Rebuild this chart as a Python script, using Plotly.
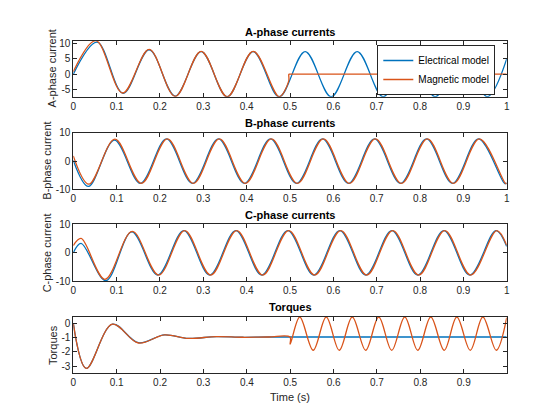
import plotly.graph_objects as go

# ---- values (peaks / troughs / breakpoints) ----
t_a_elec = [0, 0.055, 0.115, 0.175, 0.235, 0.295, 0.355, 0.415, 0.475, 0.535,
            0.595, 0.655, 0.715, 0.775, 0.835, 0.895, 0.955, 1.0]
i_a_elec = [0, 10.5, -6.3, 8.0, -7.2, 7.4, -7.4, 7.4, -7.4, 7.4,
            -7.4, 7.4, -7.4, 7.4, -7.4, 7.4, -7.4, 5.0]
t_a_mag = [0, 0.052, 0.114, 0.175, 0.235, 0.295, 0.355, 0.415, 0.475,
           0.497, 0.4975, 0.5, 1.0]
i_a_mag = [0.8, 11.0, -6.2, 8.1, -7.3, 7.5, -7.4, 7.5, -7.4,
           -2.3, 0, 0, 0]

t_b_elec = [0, 0.035, 0.095, 0.155, 0.215, 0.275, 0.335, 0.395, 0.455, 0.515,
            0.575, 0.635, 0.695, 0.755, 0.815, 0.875, 0.935, 0.995, 1.0]
i_b_elec = [0.2, -9.0, 7.4, -7.9, 7.8, -7.9, 7.8, -7.9, 7.8, -7.9,
            7.8, -7.9, 7.8, -7.9, 7.8, -7.9, 7.8, -7.9, -7.8]
t_b_mag = [0, 0.036, 0.096, 0.157, 0.217, 0.277, 0.337, 0.397, 0.457, 0.517,
           0.577, 0.637, 0.697, 0.757, 0.817, 0.877, 0.937, 0.997, 1.0]
i_b_mag = [1.8, -8.2, 7.7, -7.9, 7.8, -7.9, 7.8, -7.9, 7.8, -7.9,
           7.8, -7.9, 7.8, -7.9, 7.8, -7.9, 7.8, -7.9, -7.9]

t_c_elec = [0, 0.018, 0.075, 0.135, 0.195, 0.255, 0.315, 0.375, 0.435, 0.495,
            0.555, 0.615, 0.675, 0.735, 0.795, 0.855, 0.915, 0.975, 1.0]
i_c_elec = [0, 3.3, -9.9, 7.3, -7.9, 7.8, -7.9, 7.8, -7.9, 7.8,
            -7.9, 7.8, -7.9, 7.8, -7.9, 7.8, -7.9, 7.8, 2.2]
t_c_mag = [0, 0.018, 0.073, 0.136, 0.197, 0.257, 0.317, 0.377, 0.437, 0.497,
           0.557, 0.617, 0.677, 0.737, 0.797, 0.857, 0.917, 0.977, 1.0]
i_c_mag = [2.5, 5.0, -9.4, 7.5, -7.9, 7.8, -7.9, 7.8, -7.9, 7.8,
           -7.9, 7.8, -7.9, 7.8, -7.9, 7.8, -7.9, 7.8, 2.6]

t_q_elec = [0, 0.03, 0.09, 0.15, 0.21, 0.265, 0.33, 0.39, 0.45, 0.999]
q_elec = [0, -3.15, -0.05, -1.35, -0.8, -1.05, -0.92, -0.97, -0.95, -0.95]
t_q_mag = [0, 0.03, 0.09, 0.15, 0.21, 0.265, 0.33, 0.39, 0.45, 0.4995, 0.5,
           0.522, 0.553, 0.583, 0.613, 0.643, 0.674, 0.704, 0.734, 0.764,
           0.794, 0.824, 0.855, 0.884, 0.915, 0.944, 0.975, 0.999]
q_mag = [0, -3.15, -0.05, -1.37, -0.8, -1.05, -0.92, -0.97, -0.95, -0.95, -1.45,
         0.45, -1.88, 0.45, -1.88, 0.45, -1.88, 0.45, -1.88, 0.45,
         -1.88, 0.45, -1.88, 0.45, -1.88, 0.45, -1.88, 0.4]

titles = ["A-phase currents", "B-phase currents", "C-phase currents", "Torques"]
ylabels = ["A-phase current", "B-phase current", "C-phase current", "Torques"]
yticks = [[-5, 0, 5, 10], [-10, 0, 10], [-10, 0, 10], [-3, -2, -1, 0]]
yranges = [[-7.41, 10.98], [-10, 10], [-10, 10], [-3.45, 0.47]]
xticks_full = [0, 0.1, 0.2, 0.3, 0.4, 0.5, 0.6, 0.7, 0.8, 0.9, 1]
xticks_torque = [0, 0.1, 0.2, 0.3, 0.4, 0.5, 0.6, 0.7, 0.8, 0.9]

# ---- styling / layout ----
BLUE = "#0072BD"
ORANGE = "#D95319"
AX = "#262626"
FONT = "Liberation Sans, Arial, sans-serif"
W, H = 560, 420
PAGE = 8  # the page body adds an 8px margin, positions below are in window px


def fx(px):
    return (px - PAGE) / W


def fy(px):
    return 1 - (px - PAGE) / H


x_dom = [fx(73.3), fx(506.7)]
panels_px = [(40.7, 96.7), (132.7, 189.3), (224.3, 281.0), (316.7, 372.7)]
title_px = [31.7, 123.3, 215.0, 306.7]
ylabel_x_px = [51.7, 46.7, 46.7, 52.3]

series = [
    (t_a_elec, i_a_elec, t_a_mag, i_a_mag),
    (t_b_elec, i_b_elec, t_b_mag, i_b_mag),
    (t_c_elec, i_c_elec, t_c_mag, i_c_mag),
    (t_q_elec, q_elec, t_q_mag, q_mag),
]

fig = go.Figure()
annotations = []
layout_axes = {}

for k, (te, ye, tm, ym) in enumerate(series):
    n = "" if k == 0 else str(k + 1)
    xa, ya = "x" + n, "y" + n
    fig.add_trace(go.Scatter(x=te, y=ye, xaxis=xa, yaxis=ya, mode="lines",
                             line=dict(color=BLUE, width=1.3, shape="spline"),
                             name="Electrical model", showlegend=(k == 0)))
    fig.add_trace(go.Scatter(x=tm, y=ym, xaxis=xa, yaxis=ya, mode="lines",
                             line=dict(color=ORANGE, width=1.3, shape="spline"),
                             name="Magnetic model", showlegend=(k == 0)))

    top, bot = panels_px[k]
    y_dom = [fy(bot), fy(top)]
    last = k == 3
    xt = xticks_torque if last else xticks_full
    common = dict(ticks="inside", ticklen=4, tickwidth=1, tickcolor=AX,
                  showline=True, linecolor=AX, linewidth=1, mirror="ticks",
                  showgrid=False, zeroline=False, automargin=False,
                  tickfont=dict(size=10, color=AX, family=FONT))
    layout_axes["xaxis" + n] = dict(
        domain=x_dom, anchor=ya, range=[0, 0.999] if last else [0, 1],
        tickvals=xt, ticktext=[f"{v:g}" for v in xt], **common)
    layout_axes["yaxis" + n] = dict(
        domain=y_dom, anchor=xa, range=yranges[k],
        tickvals=yticks[k], ticktext=[str(v) for v in yticks[k]], **common)

    annotations.append(dict(
        text="<b>" + titles[k] + "</b>", xref="paper", yref="paper",
        x=(x_dom[0] + x_dom[1]) / 2, y=fy(title_px[k]),
        xanchor="center", yanchor="middle", showarrow=False,
        font=dict(size=11, color="black", family=FONT)))
    annotations.append(dict(
        text=ylabels[k], xref="paper", yref="paper", textangle=-90,
        x=fx(ylabel_x_px[k]), y=fy((top + bot) / 2),
        xanchor="center", yanchor="middle", showarrow=False,
        font=dict(size=11, color=AX, family=FONT)))

annotations.append(dict(
    text="Time (s)", xref="paper", yref="paper",
    x=(x_dom[0] + x_dom[1]) / 2, y=fy(397),
    xanchor="center", yanchor="middle", showarrow=False,
    font=dict(size=11, color=AX, family=FONT)))

fig.update_layout(
    width=W, height=H, autosize=False,
    margin=dict(l=0, r=0, t=0, b=0),
    paper_bgcolor="white", plot_bgcolor="white",
    font=dict(family=FONT, color=AX),
    annotations=annotations,
    legend=dict(x=fx(377.3), y=fy(45), xanchor="left", yanchor="top",
                bgcolor="white", bordercolor=AX, borderwidth=1,
                font=dict(size=10, color="black", family=FONT),
                tracegroupgap=0, itemwidth=30),
    **layout_axes,
)

fig.write_html("out.html")
